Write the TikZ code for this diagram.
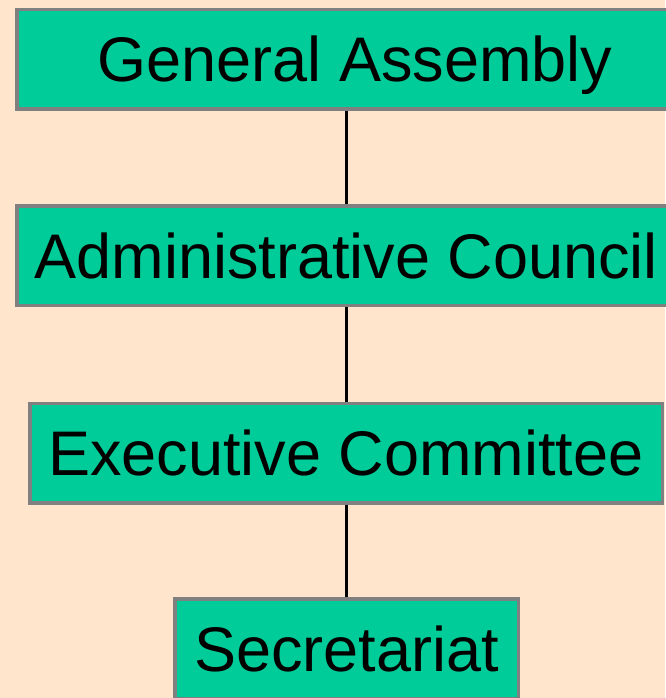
\documentclass[tikz,border=0pt]{standalone}
\usepackage{fontspec}
\setmainfont{Liberation Sans}
\definecolor{peach}{HTML}{FFE5CC}
\definecolor{teal}{HTML}{00CC99}
\definecolor{rim}{HTML}{808080}

\begin{document}
\begin{tikzpicture}
    [x=1pt,y=-1pt,
     boxstyle/.style={draw=rim,fill=teal,line width=3.5pt,minimum height=99.5pt,
       inner sep=0pt,text height=45pt,text depth=0pt,
       font=\fontsize{63}{70}\selectfont},
     linkstyle/.style={draw=black,line width=3pt}]

    \fill[peach] (0,0) rectangle (665,698);
    \useasboundingbox (0,0) rectangle (665,698);

    \node[boxstyle,minimum width=676.5pt] (ga) at (355,59.5) {General Assembly};
    \node[boxstyle,minimum width=659.5pt] (ac) at (346.5,255.5) {Administrative Council};
    \node[boxstyle,minimum width=632.5pt] (ec) at (346,453) {Executive Committee};
    \node[boxstyle,minimum width=343.5pt] (sec) at (346.5,648.5) {Secretariat};

    \draw[linkstyle] (ga.south -| ac.north) -- (ac.north);
    \draw[linkstyle] (ac.south) -- (ec.north -| ac.south);
    \draw[linkstyle] (ec.south -| sec.north) -- (sec.north);
  \end{tikzpicture}
\end{document}
